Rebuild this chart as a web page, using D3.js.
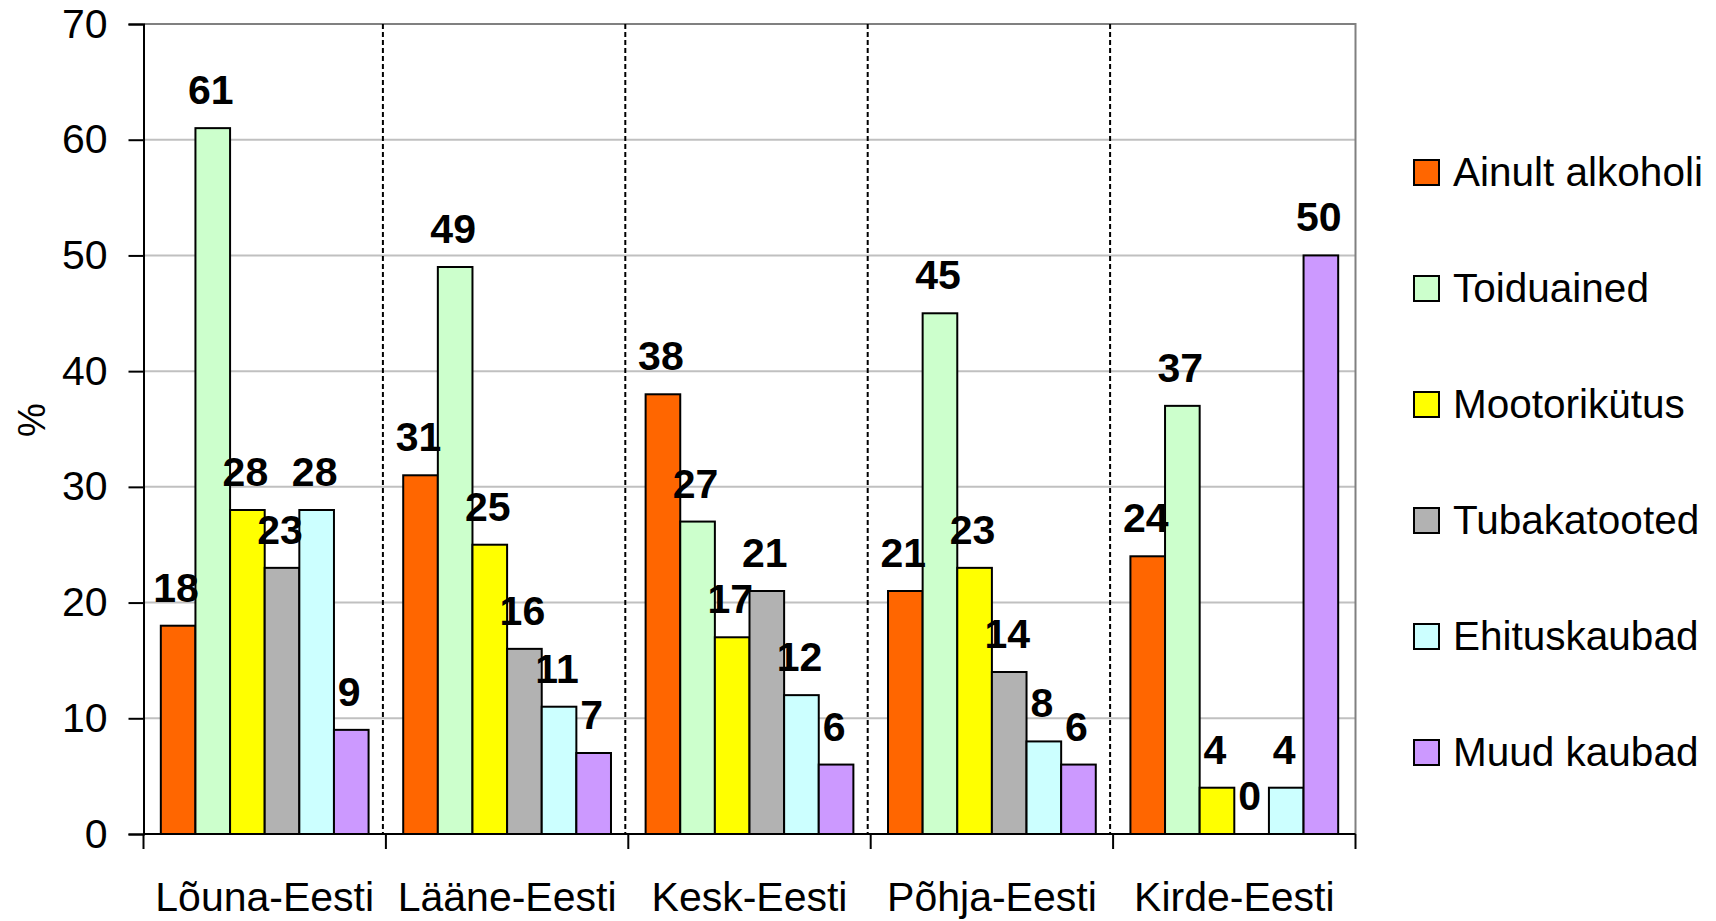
<!DOCTYPE html>
<html>
<head>
<meta charset="utf-8">
<script src="https://cdn.jsdelivr.net/npm/d3@7"></script>
<style>
  body { margin: 0; background: #fff; }
  svg { display: block; font-family: "Liberation Sans", Arial, sans-serif; }
</style>
</head>
<body>
<svg id="chart" width="1716" height="921"></svg>
<script>
// data
const regions = ["Lõuna-Eesti", "Lääne-Eesti", "Kesk-Eesti", "Põhja-Eesti", "Kirde-Eesti"];
const series = ["Ainult alkoholi", "Toiduained", "Mootorikütus", "Tubakatooted", "Ehituskaubad", "Muud kaubad"];
const colors = ["#FF6600", "#CCFFCC", "#FFFF00", "#B2B2B2", "#CCFFFF", "#CC99FF"];
const alkohol = [18, 31, 38, 21, 24];
const toit = [61, 49, 27, 45, 37];
const kytus = [28, 25, 17, 23, 4];
const tubakas = [23, 16, 21, 14, 0];
const ehitus = [28, 11, 12, 8, 4];
const muud = [9, 7, 6, 6, 50];
const yTicks = [0, 10, 20, 30, 40, 50, 60, 70];

const values = [alkohol, toit, kytus, tubakas, ehitus, muud];
const table = regions.map((r, i) => ({
    region: r,
    vals: series.map((s, j) => ({ key: s, value: values[j][i], color: colors[j] }))
}));

const svg = d3.select("#chart");
const plotLeft = 143.5, plotRight = 1355.5, plotTop = 24, plotBottom = 834;

const x0 = d3.scaleBand().domain(regions).range([plotLeft, plotRight]).padding(0);
const bw = x0.bandwidth();
const x1 = d3.scaleBand().domain(series).range([bw / 14, bw * 13 / 14]).padding(0);
const y = d3.scaleLinear().domain([0, 70]).range([plotBottom, plotTop]);

// gridlines
svg.append("g")
    .selectAll("line")
    .data(yTicks.filter(t => t > 0 && t < 70))
    .join("line")
    .attr("x1", plotLeft).attr("x2", plotRight)
    .attr("y1", d => y(d)).attr("y2", d => y(d))
    .attr("stroke", "#C0C0C0").attr("stroke-width", 2);

// plot border top/right
svg.append("path")
    .attr("d", `M${plotLeft},${y(70)}H${plotRight}V${y(0)}`)
    .attr("fill", "none").attr("stroke", "#808080").attr("stroke-width", 2);

// dashed separators between regions
svg.append("g")
    .selectAll("line")
    .data(regions.slice(1))
    .join("line")
    .attr("x1", d => x0(d) - 3).attr("x2", d => x0(d) - 3)
    .attr("y1", y(70)).attr("y2", y(0))
    .attr("stroke", "#000").attr("stroke-width", 2)
    .attr("stroke-dasharray", "5,3");

// bars
const groups = svg.append("g")
    .selectAll("g")
    .data(table)
    .join("g")
    .attr("transform", d => `translate(${x0(d.region)},0)`);

groups.selectAll("rect")
    .data(d => d.vals)
    .join("rect")
    .attr("x", d => x1(d.key))
    .attr("y", d => y(d.value))
    .attr("width", x1.bandwidth())
    .attr("height", d => y(0) - y(d.value))
    .attr("fill", d => d.color)
    .attr("stroke", "#000")
    .attr("stroke-width", 2);

groups.selectAll("text")
    .data(d => d.vals)
    .join("text")
    .attr("x", d => x1(d.key) + x1.bandwidth() / 2 - 2)
    .attr("y", d => y(d.value) - 24)
    .attr("text-anchor", "middle")
    .attr("font-size", 41)
    .attr("font-weight", "bold")
    .text(d => d.value);

// y axis
const yAxis = svg.append("g")
    .attr("transform", `translate(${plotLeft},0)`)
    .call(d3.axisLeft(y).tickValues(yTicks).tickSize(15).tickPadding(21));
yAxis.select(".domain").attr("stroke", "#000").attr("stroke-width", 2);
yAxis.selectAll(".tick line").attr("stroke", "#000").attr("stroke-width", 2);
yAxis.selectAll(".tick text")
    .attr("font-size", 41)
    .attr("font-family", "Liberation Sans, Arial, sans-serif")
    .attr("fill", "#000");

// x axis
const xAxis = svg.append("g")
    .attr("transform", `translate(0,${plotBottom})`)
    .call(d3.axisBottom(x0).tickSize(0).tickPadding(48));
xAxis.select(".domain").remove();
xAxis.selectAll(".tick text")
    .attr("font-size", 41)
    .attr("font-family", "Liberation Sans, Arial, sans-serif")
    .attr("fill", "#000");
svg.append("line")
    .attr("x1", plotLeft).attr("x2", plotRight)
    .attr("y1", plotBottom).attr("y2", plotBottom)
    .attr("stroke", "#000").attr("stroke-width", 2);
svg.append("g")
    .selectAll("line")
    .data(regions.concat(["end"]))
    .join("line")
    .attr("x1", (d, i) => i < regions.length ? x0(d) : plotRight)
    .attr("x2", (d, i) => i < regions.length ? x0(d) : plotRight)
    .attr("y1", plotBottom).attr("y2", plotBottom + 15)
    .attr("stroke", "#000").attr("stroke-width", 2);

// y label
svg.append("text")
    .attr("transform", "translate(45,420) rotate(-90)")
    .attr("text-anchor", "middle")
    .attr("font-size", 38)
    .text("%");

// legend
const legend = svg.append("g")
    .selectAll("g")
    .data(series)
    .join("g")
    .attr("transform", (d, i) => `translate(1414,${172 + i * 116})`);
legend.append("rect")
    .attr("x", 0).attr("y", -12)
    .attr("width", 25).attr("height", 25)
    .attr("fill", (d, i) => colors[i])
    .attr("stroke", "#000").attr("stroke-width", 2);
legend.append("text")
    .attr("x", 39).attr("y", 14)
    .attr("font-size", 40.5)
    .text(d => d);
</script>
</body>
</html>
